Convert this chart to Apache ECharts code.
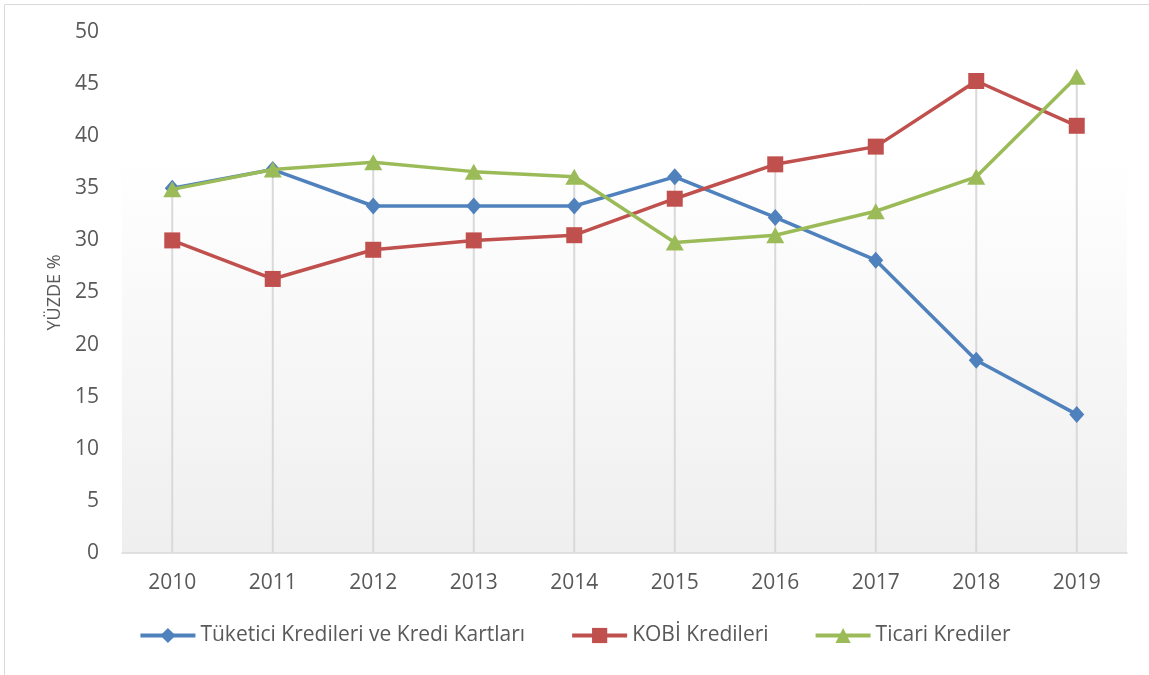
<!DOCTYPE html>
<html>
<head>
    <meta charset="utf-8">
    <title>Kredi dağılımı</title>
    <script src="https://cdn.jsdelivr.net/npm/echarts@6/dist/echarts.min.js"></script>
    <style>
        html, body { margin: 0; padding: 0; background: #fff; }
        #main { width: 1149px; height: 675px; }
    </style>
</head>
<body>
<div id="main"></div>
<script>
    // yıllar ve seriler
    var years = ['2010', '2011', '2012', '2013', '2014', '2015', '2016', '2017', '2018', '2019'];
    var tuketici = [35, 36.8, 33.3, 33.3, 33.3, 36.1, 32.2, 28.1, 18.5, 13.3];
    var kobi = [30, 26.3, 29.1, 30, 30.5, 34, 37.3, 39, 45.3, 41];
    var ticari = [34.9, 36.8, 37.5, 36.6, 36.1, 29.8, 30.5, 32.8, 36.1, 45.7];
    var yTicks = [0, 5, 10, 15, 20, 25, 30, 35, 40, 45, 50];

    // her yıl için en yüksek değerden eksene inen çizgi
    var dropTop = years.map(function (y, i) {
        return Math.max(tuketici[i], kobi[i], ticari[i]);
    });

    var font = '"Open Sans", "Liberation Sans", sans-serif';
    var myChart = echarts.init(document.getElementById('main'));
    var option = {
        animation: false,
        textStyle: { fontFamily: font },
        graphic: [{
            type: 'rect',
            shape: { x: 4.5, y: 4.5, width: 1200, height: 700 },
            style: { fill: 'none', stroke: '#d9d9d9', lineWidth: 1 },
            silent: true
        }],
        grid: {
            left: 122,
            right: 22,
            top: 32,
            bottom: 122,
            show: true,
            borderWidth: 0,
            backgroundColor: {
                type: 'linear', x: 0, y: 0, x2: 0, y2: 1,
                colorStops: [
                    { offset: 0, color: '#ffffff' },
                    { offset: 0.24, color: '#ffffff' },
                    { offset: 1, color: '#efefef' }
                ]
            }
        },
        legend: {
            bottom: 24,
            left: 'center',
            itemWidth: 55,
            itemHeight: 19,
            itemGap: 45,
            lineStyle: { width: 4 },
            textStyle: { fontSize: 21, color: '#595959', fontFamily: font },
            data: ['Tüketici Kredileri ve Kredi Kartları', 'KOBİ Kredileri', 'Ticari Krediler']
        },
        xAxis: {
            type: 'category',
            data: years,
            boundaryGap: true,
            axisLine: { lineStyle: { color: '#d9d9d9', width: 1.5 } },
            axisTick: { show: false },
            axisLabel: { color: '#595959', fontSize: 21, margin: 20 },
            splitLine: { show: false }
        },
        yAxis: {
            type: 'value',
            min: yTicks[0],
            max: yTicks[yTicks.length - 1],
            interval: 5,
            name: 'YÜZDE %',
            nameLocation: 'middle',
            nameGap: 58,
            nameTextStyle: { color: '#595959', fontSize: 18 },
            axisLine: { show: false },
            axisTick: { show: false },
            splitLine: { show: false },
            axisLabel: { color: '#595959', fontSize: 21, margin: 23 }
        },
        series: [
            {
                name: 'drop',
                type: 'bar',
                data: dropTop,
                barWidth: 2,
                itemStyle: { color: '#d9d9d9' },
                silent: true,
                z: 1
            },
            {
                name: 'Tüketici Kredileri ve Kredi Kartları',
                type: 'line',
                data: tuketici,
                symbol: 'diamond',
                symbolSize: [15, 17],
                lineStyle: { color: '#4f81bd', width: 3.5 },
                itemStyle: { color: '#4f81bd' },
                z: 3
            },
            {
                name: 'KOBİ Kredileri',
                type: 'line',
                data: kobi,
                symbol: 'rect',
                symbolSize: 16,
                lineStyle: { color: '#c0504d', width: 3.5 },
                itemStyle: { color: '#c0504d' },
                z: 4
            },
            {
                name: 'Ticari Krediler',
                type: 'line',
                data: ticari,
                symbol: 'triangle',
                symbolSize: [18, 16],
                lineStyle: { color: '#9bbb59', width: 3.5 },
                itemStyle: { color: '#9bbb59' },
                z: 5
            }
        ]
    };
    myChart.setOption(option);
</script>
</body>
</html>
